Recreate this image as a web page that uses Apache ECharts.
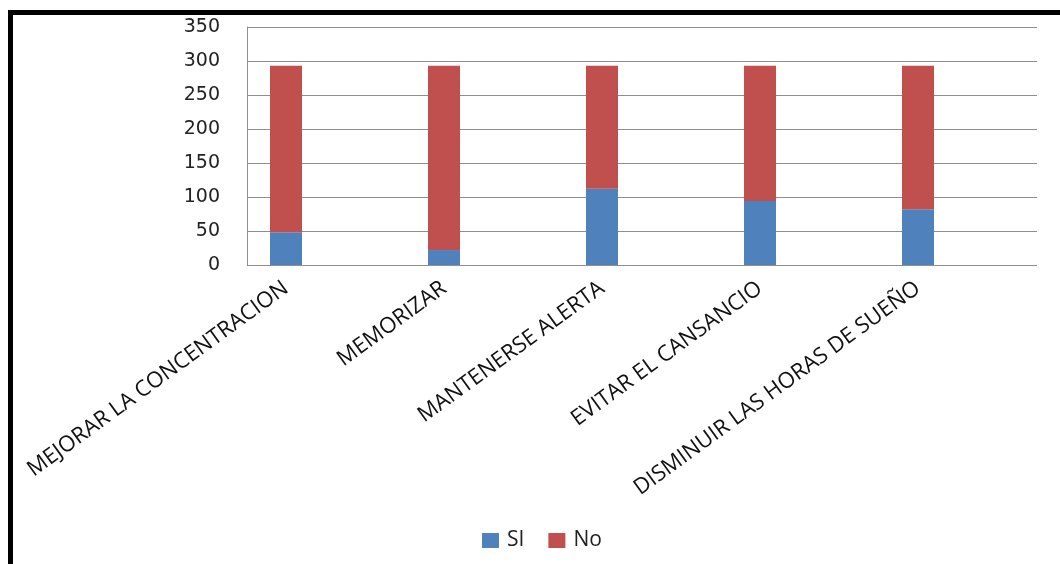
<!DOCTYPE html>
<html>
<head>
<meta charset="utf-8">
<script src="https://cdn.jsdelivr.net/npm/echarts@6/dist/echarts.min.js"></script>
<style>
  html, body { margin: 0; padding: 0; background: #fff; }
  #frame { position: absolute; left: 8px; top: 10px; width: 1052px; height: 554px;
           border-left: 5px solid #000; border-top: 5px solid #000; box-sizing: border-box; }
  #chart { position: absolute; left: 0; top: 0; width: 1060px; height: 564px; }
</style>
</head>
<body>
<div id="frame"></div>
<div id="chart"></div>
<script>
// Reasons for consumption, answers split into "SI" / "No"
const categories = [
  'MEJORAR LA CONCENTRACION',
  'MEMORIZAR',
  'MANTENERSE ALERTA',
  'EVITAR EL CANSANCIO',
  'DISMINUIR LAS HORAS DE SUEÑO'
];
const seriesNames = ['SI', 'No'];
const siValues = [48, 22, 112, 94, 82];
const noValues = [245, 271, 181, 199, 211];
const yTicks = { min: 0, max: 350, interval: 50 };

const chart = echarts.init(document.getElementById('chart'), null, { renderer: 'canvas' });

const gridLine = '#8e8e8e';

chart.setOption({
  animation: false,
  backgroundColor: 'transparent',
  color: ['#4F81BD', '#C0504D'],
  legend: {
    data: seriesNames,
    left: 477,
    top: 525,
    itemWidth: 17,
    itemHeight: 15,
    itemGap: 24,
    icon: 'rect',
    textStyle: { fontFamily: 'Open Sans', fontSize: 21, color: '#222', padding: [0, 0, 0, 3] }
  },
  grid: [
    // value scale with gridlines
    { left: 247, top: 27, width: 790, height: 238 },
    // category bands for the bars
    { left: 207, top: 27, width: 790, height: 238 }
  ],
  xAxis: [
    { gridIndex: 0, type: 'value', show: false, min: 0, max: 1 },
    {
      gridIndex: 1, type: 'category', data: categories,
      axisLine: { show: false }, axisTick: { show: false },
      axisLabel: {
        rotate: 36, margin: 21, interval: 0,
        fontFamily: 'Open Sans', fontSize: 22, color: '#111'
      }
    }
  ],
  yAxis: [
    {
      gridIndex: 0, type: 'value', min: yTicks.min, max: yTicks.max, interval: yTicks.interval,
      axisLine: { show: true, lineStyle: { color: gridLine, width: 1 } },
      axisTick: { show: false },
      splitLine: { show: true, lineStyle: { color: gridLine, width: 1 } },
      axisLabel: { margin: 27, fontFamily: 'DejaVu Sans', fontSize: 19, color: '#222' }
    },
    {
      gridIndex: 1, type: 'value', min: yTicks.min, max: yTicks.max, interval: yTicks.interval,
      show: false, splitLine: { show: false }
    }
  ],
  series: [
    {
      name: seriesNames[0], type: 'bar', stack: 'total',
      xAxisIndex: 1, yAxisIndex: 1, barWidth: 32,
      data: siValues
    },
    {
      name: seriesNames[1], type: 'bar', stack: 'total',
      xAxisIndex: 1, yAxisIndex: 1, barWidth: 32,
      data: noValues
    }
  ]
});
</script>
</body>
</html>
